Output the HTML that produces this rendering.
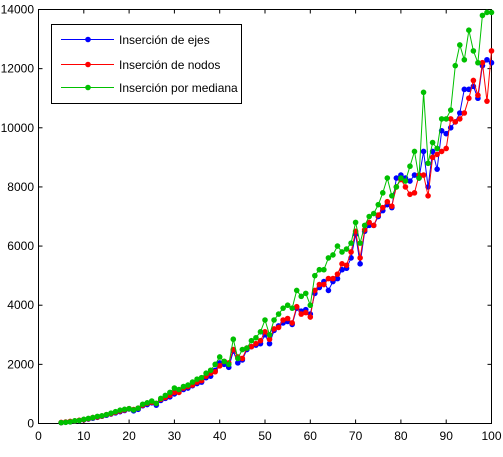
<!DOCTYPE html>
<html><head><meta charset="utf-8"><style>
body{margin:0;background:#fff;}
svg text{font-family:"Liberation Sans",sans-serif;font-size:12px;}
</style></head><body>
<svg id="chart" width="503" height="452" xmlns="http://www.w3.org/2000/svg">
<rect x="38.5" y="9.5" width="453" height="414" fill="#fff" stroke="#000" stroke-width="1"/>
<g id="axes"></g>
<g id="series"></g>
<g>
<rect x="51.5" y="24.5" width="190" height="79" fill="#fff" stroke="#000"/>
<g><line x1="61" y1="39.5" x2="114" y2="39.5" stroke="#0000ff"/><circle cx="88" cy="39.5" r="2.8" fill="#0000ff"/><text x="119" y="44">Inserción de ejes</text></g>
<g><line x1="61" y1="64.5" x2="114" y2="64.5" stroke="#ff0000"/><circle cx="88" cy="64.5" r="2.8" fill="#ff0000"/><text x="119" y="69">Inserción de nodos</text></g>
<g><line x1="61" y1="87.5" x2="114" y2="87.5" stroke="#00c000"/><circle cx="88" cy="87.5" r="2.8" fill="#00c000"/><text x="119" y="92">Inserción por mediana</text></g>
</g>
</svg>
<script>
const xStart = 5;
const ejes = [30,45,60,80,100,125,150,180,210,245,
280,320,360,400,440,490,430,480,600,640,
700,620,780,850,900,1000,1100,1150,1200,1280,
1350,1400,1550,1600,1800,2050,2000,1900,2450,2050,
2150,2500,2600,2650,2700,3000,2700,3150,3300,3400,
3450,3350,3900,3800,3850,3700,4400,4600,4800,4500,
4800,4900,5200,5250,5600,6400,5400,6500,6700,6700,
7000,7200,7400,7300,8300,8400,8300,8200,8400,8300,
9200,8000,9200,8600,9900,9800,10000,10200,10500,11300,
11300,11400,11000,12100,12300,12200];
const nodos = [35,50,70,85,110,130,160,200,220,250,
300,330,380,420,460,500,470,520,620,680,
720,680,820,880,950,1050,1050,1200,1250,1300,
1400,1450,1600,1700,1750,1950,2100,2050,2500,2250,
2200,2550,2600,2700,2800,3100,2850,3200,3250,3500,
3550,3400,3950,3700,3750,3600,4500,4700,4700,4900,
4900,5050,5400,5350,5800,6500,5600,6550,6800,6700,
7050,7300,7500,7350,8000,8250,8000,7750,7800,8400,
8400,7700,9000,9100,9200,9300,10300,10200,10300,10500,
11000,11600,11100,12200,10900,12600];
const mediana = [30,40,55,90,100,140,170,200,240,260,
300,350,400,450,480,500,460,520,650,700,
760,680,850,950,1050,1200,1150,1250,1300,1400,
1500,1550,1700,1800,2000,2250,2100,2000,2850,2200,
2500,2550,2800,2900,3100,3500,3000,3500,3700,3900,
4000,3900,4500,4300,4400,4000,5000,5200,5200,5600,
5700,6000,5800,5900,6100,6800,6100,6700,7000,7100,
7400,7800,8300,7700,8000,8300,8200,8700,9200,8300,
11200,8800,9500,9300,10300,10300,10600,12100,12800,12300,
13300,12600,12200,13800,13900,13900];
const xTicks = [0,10,20,30,40,50,60,70,80,90,100];
const yTicks = [0,2000,4000,6000,8000,10000,12000,14000];
const ns="http://www.w3.org/2000/svg";
const X0=38.5,X1=491.5,Y0=423.5,Y1=9.5;
function sx(v){return X0+(X1-X0)*v/100;}
function sy(v){return Y0-(Y0-Y1)*v/14000;}
const axes=document.getElementById('axes');
function mk(tag,attrs,parent){const e=document.createElementNS(ns,tag);for(const k in attrs)e.setAttribute(k,attrs[k]);parent.appendChild(e);return e;}
xTicks.forEach(t=>{
  const x=sx(t);
  const l=mk('line',{x1:x,x2:x,y1:Y0,y2:Y0-4,stroke:'#000'},axes);
  
  
  mk('line',{x1:x,x2:x,y1:Y1,y2:Y1+4,stroke:'#000'},axes);
  const tx=mk('text',{x:x,y:440,'text-anchor':'middle'},axes);
  tx.textContent=t;
  
  
});
yTicks.forEach(t=>{
  const y=sy(t);
  const l=mk('line',{x1:X0,x2:X0+4,y1:y,y2:y,stroke:'#000'},axes);
  
  
  mk('line',{x1:X1,x2:X1-4,y1:y,y2:y,stroke:'#000'},axes);
  const tx=mk('text',{x:34,y:y+4,'text-anchor':'end'},axes);
  tx.textContent=t;
  
  
});
const sg=document.getElementById('series');
function draw(vals,color,name){
  const g=mk('g',{},sg);
  
  
  const pts=vals.map((v,i)=>sx(xStart+i).toFixed(1)+','+sy(v).toFixed(1)).join(' ');
  const pl=mk('polyline',{points:pts,fill:'none',stroke:color,'stroke-width':1},g);
  
  
  vals.forEach((v,i)=>{
    const c=mk('circle',{cx:sx(xStart+i),cy:sy(v),r:2.8,fill:color},g);
    
    
  });
}
draw(ejes,'#0000ff','series-ejes');
draw(nodos,'#ff0000','series-nodos');
draw(mediana,'#00c000','series-mediana');
</script>
</body></html>
